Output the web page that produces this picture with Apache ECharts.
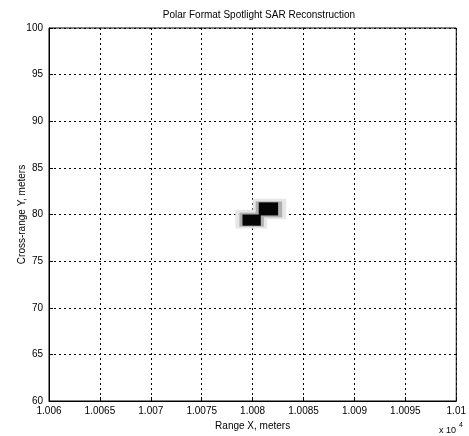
<!DOCTYPE html>
<html><head><meta charset="utf-8">
<script src="https://cdn.jsdelivr.net/npm/echarts@6/dist/echarts.min.js"></script>
<style>html,body{margin:0;padding:0;background:#fff}#c{width:469px;height:436px}</style>
</head><body><div id="c"></div>
<script>
const title = 'Polar Format Spotlight SAR Reconstruction';
const xName = 'Range X, meters';
const yName = 'Cross-range Y, meters';
const xMin = 10060, xMax = 10100, xStep = 5;
const yMin = 60, yMax = 100, yStep = 5;
// reflector patches: [x0, x1, y0, y1, gray level 0=black..255=white]
const fringe = [
  [10078.3, 10081.4, 78.5, 80.5, 230],
  [10080.0, 10083.3, 79.5, 81.7, 230],
  [10078.7, 10081.1, 78.7, 80.2, 175],
  [10080.3, 10082.9, 79.7, 81.4, 175]
];
const cores = [
  [10079.0, 10080.8, 78.8, 80.0, 5],
  [10080.6, 10082.5, 79.9, 81.3, 5]
];
const patches = fringe.concat(cores);

const chart = echarts.init(document.getElementById('c'));
const font = 'Liberation Sans, Arial, sans-serif';
chart.setOption({
  backgroundColor: '#fff',
  animation: false,
  title: {text: title, left: 254, top: 5, textAlign: 'center',
    textStyle: {fontSize: 10, fontWeight: 'normal', color: '#000', fontFamily: font}},
  grid: {left: 49, right: 10, top: 28, bottom: 33, show: true, borderColor: '#000', borderWidth: 1},
  xAxis: {type: 'value', min: xMin, max: xMax, interval: xStep,
    name: xName, nameLocation: 'middle', nameGap: 20,
    nameTextStyle: {fontSize: 10, color: '#000', fontFamily: font},
    axisLine: {show: true, lineStyle: {color: '#000'}},
    axisTick: {show: true, inside: true, length: 4, lineStyle: {color: '#000'}},
    axisLabel: {fontSize: 10, color: '#000', fontFamily: font, margin: 5,
      formatter: v => String(+(v / 10000).toFixed(5))},
    splitLine: {show: true, lineStyle: {color: '#000', type: [2, 3], width: 1}}},
  yAxis: {type: 'value', min: yMin, max: yMax, interval: yStep,
    name: yName, nameLocation: 'middle', nameGap: 22, nameMoveOverlap: false,
    nameTextStyle: {fontSize: 10, color: '#000', fontFamily: font},
    axisLine: {show: true, lineStyle: {color: '#000'}},
    axisTick: {show: true, inside: true, length: 4, lineStyle: {color: '#000'}},
    axisLabel: {fontSize: 10, color: '#000', fontFamily: font, margin: 6},
    splitLine: {show: true, lineStyle: {color: '#000', type: [2, 3], width: 1}}},
  graphic: [{type: 'text', left: 439, top: 426,
    style: {text: 'x 10', fontSize: 9, fill: '#000', fontFamily: font}},
    {type: 'text', left: 459, top: 422,
    style: {text: '4', fontSize: 7, fill: '#000', fontFamily: font}}],
  series: [{
    type: 'custom',
    data: patches,
    renderItem: (params, api) => {
      const p0 = api.coord([api.value(0), api.value(3)]);
      const p1 = api.coord([api.value(1), api.value(2)]);
      const g = api.value(4);
      return {type: 'rect',
        shape: {x: p0[0], y: p0[1], width: p1[0] - p0[0], height: p1[1] - p0[1]},
        style: {fill: `rgb(${g},${g},${g})`}};
    },
    encode: {x: [0, 1], y: [2, 3]}
  }]
});
</script></body></html>
